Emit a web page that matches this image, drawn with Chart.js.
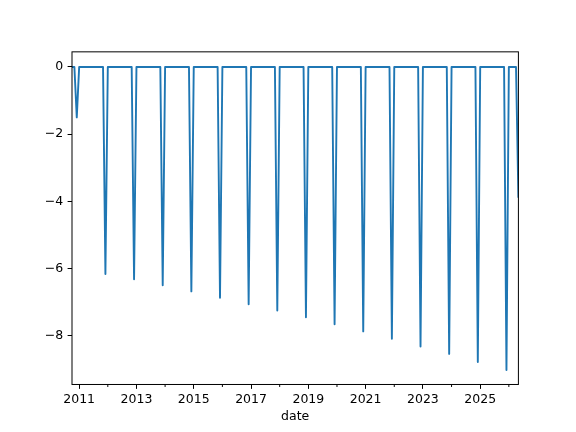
<!DOCTYPE html>
<html>
<head>
<meta charset="utf-8">
<script src="https://cdn.jsdelivr.net/npm/chart.js@4/dist/chart.umd.min.js"></script>
<style>
  body { margin: 0; background: #fff; }
  canvas { display: block; }
</style>
</head>
<body>
<canvas id="chart" width="576" height="432"></canvas>
<script>
// monthly series, zero except for the december drop of each year
const startMonth = [2010, 10];
const endMonth = [2026, 5];
const dropYears = [2010, 2011, 2012, 2013, 2014, 2015, 2016, 2017, 2018, 2019, 2020, 2021, 2022, 2023, 2024, 2025];
const dropValues = [-1.50, -6.16, -6.32, -6.50, -6.68, -6.87, -7.06, -7.25, -7.45, -7.66, -7.87, -8.09, -8.32, -8.54, -8.78, -9.02];
const endValue = -3.89;
const xTickYears = [2011, 2012, 2013, 2014, 2015, 2016, 2017, 2018, 2019, 2020, 2021, 2022, 2023, 2024, 2025, 2026];
const yTicks = [-8, -6, -4, -2, 0];

const points = [];
let y = startMonth[0], m = startMonth[1];
while (y < endMonth[0] || (y === endMonth[0] && m <= endMonth[1])) {
    let v = 0;
    if (m === 12 && dropYears.includes(y)) v = dropValues[dropYears.indexOf(y)];
    if (y === endMonth[0] && m === endMonth[1]) v = endValue;
    points.push({ x: y + (m - 1) / 12, y: v });
    m++;
    if (m > 12) { m = 1; y++; }
}

const isMajor = year => year % 2 === 1;

const framePlugin = {
    id: 'frame',
    afterDraw(chart) {
        const ctx = chart.ctx;
        const a = chart.chartArea;
        const xs = chart.scales.x;
        ctx.save();
        ctx.strokeStyle = '#000';
        ctx.lineWidth = 1;
        // minor ticks for the even years
        xTickYears.filter(t => !isMajor(t)).forEach(t => {
            const px = xs.getPixelForValue(t);
            ctx.beginPath();
            ctx.moveTo(px, a.bottom);
            ctx.lineTo(px, a.bottom + 2.5);
            ctx.stroke();
        });
        ctx.strokeRect(a.left, a.top, a.right - a.left, a.bottom - a.top);
        ctx.restore();
    }
};

Chart.defaults.font.family = "'DejaVu Sans', sans-serif";
Chart.defaults.font.size = 12.5;
Chart.defaults.color = '#000';

new Chart(document.getElementById('chart').getContext('2d'), {
    type: 'line',
    data: {
        datasets: [{
            data: points,
            borderColor: '#1f77b4',
            borderWidth: 1.9,
            pointRadius: 0,
            tension: 0,
            fill: false,
            borderJoinStyle: 'round'
        }]
    },
    options: {
        responsive: false,
        animation: false,
        devicePixelRatio: 1,
        layout: { padding: { left: 0, right: 57.6, top: 51.84, bottom: 0 } },
        plugins: { legend: { display: false }, tooltip: { enabled: false } },
        scales: {
            x: {
                type: 'linear',
                min: 2010.75,
                max: 2026 + 4 / 12,
                afterBuildTicks: scale => { scale.ticks = xTickYears.map(v => ({ value: v })); },
                afterFit: scale => { scale.height = 432 - 384.48; },
                ticks: {
                    autoSkip: false,
                    maxRotation: 0,
                    padding: 3,
                    callback: v => isMajor(v) ? String(v) : ''
                },
                grid: {
                    drawOnChartArea: false,
                    tickLength: 4.4,
                    tickColor: c => (c.tick && isMajor(c.tick.value)) ? '#000' : 'rgba(0,0,0,0)'
                },
                border: { display: false },
                title: { display: true, text: 'date', padding: { top: 0, bottom: 8 } }
            },
            y: {
                min: -9.45,
                max: 0.45,
                afterBuildTicks: scale => { scale.ticks = yTicks.map(v => ({ value: v })); },
                afterFit: scale => { scale.width = 72; },
                ticks: {
                    padding: 4.4,
                    callback: v => v < 0 ? '\u2212' + Math.abs(v) : String(v)
                },
                grid: { drawOnChartArea: false, tickLength: 4.4, tickColor: '#000' },
                border: { display: false }
            }
        }
    },
    plugins: [framePlugin]
});
</script>
</body>
</html>
